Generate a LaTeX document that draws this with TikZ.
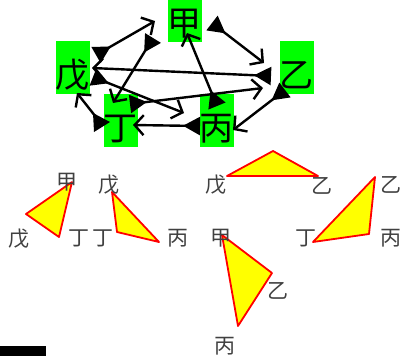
\documentclass[tikz,border=0pt]{standalone}
\usepackage{fontspec}
\usetikzlibrary{arrows.meta,calc}
\newfontfamily\cjk{Noto Sans CJK SC}
\definecolor{boxgreen}{RGB}{0,255,0}
\definecolor{triyellow}{RGB}{255,255,0}
\definecolor{trired}{RGB}{255,0,0}
\begin{document}
\begin{tikzpicture}[x=1pt,y=-1pt,
  vertex/.style={fill=boxgreen,inner sep=0pt,minimum width=33pt,
    text height=46.5pt,text depth=6.5pt,font=\cjk\fontsize{34}{34}\selectfont},
  openhead/.style={line width=2.4pt,-{Straight Barb[length=9pt,width=20pt,line width=2.4pt]}},
  edge/.style={openhead,{Triangle[reversed,length=17pt,width=18pt]}-{Straight Barb[length=9pt,width=20pt,line width=2.4pt]}},
  lbl/.style={anchor=base,inner sep=0pt,text=black!75,font=\cjk\fontsize{21}{21}\selectfont},
  tri/.style={draw=trired,fill=triyellow,line width=1.8pt,line join=round}]
\useasboundingbox (0,0) rectangle (401,356);

% the five vertices
\node[vertex] (jia)  at (184.5,15.5)  {甲};
\node[vertex] (yi)   at (296.5,67.5)  {乙};
\node[vertex] (bing) at (216.5,120.5) {丙};
\node[vertex] (ding) at (120.5,120.5) {丁};
\node[vertex] (wu)   at (72.5,67.5)   {戊};

% edges of the complete graph
\draw[edge] ($(wu)+(23.5,-12.5)$)   -- ($(jia)+(-29.5,5.5)$);
\draw[edge] ($(jia)+(-31.5,22.5)$)  -- ($(ding)+(-7.5,-17.5)$);
\draw[edge] ($(jia)+(27.5,7.5)$)    -- ($(yi)+(-32.5,-4.5)$);
\draw[edge] ($(bing)+(0.5,-14.5)$)  -- ($(jia)+(2.5,17.5)$);
\draw[edge] ($(yi)+(-25.5,8.5)$)    -- ($(wu)+(19.5,0.5)$);
\draw[edge] ($(wu)+(20.5,9.5)$)     -- ($(bing)+(-32.5,-7.5)$);
\draw[edge] ($(ding)+(9.5,-16.5)$)  -- ($(yi)+(-33.5,20.5)$);
\draw[edge] ($(bing)+(-16.5,5.5)$)  -- ($(ding)+(12.5,4.5)$);
\draw[edge] ($(yi)+(-11.5,22.5)$)   -- ($(bing)+(16.5,9.5)$);
\draw[openhead] ($(ding)+(-23,-1.5)$) -- ($(wu)+(4.5,25.5)$);
\fill ($(ding)+(-27.5,-7.5)$) -- ($(ding)+(-10.5,1.5)$) -- ($(ding)+(-26.5,11.5)$) -- cycle;

% triangles of vertex triples
\draw[tri] (72,182) -- (26,214) -- (59,237) -- cycle;
\node[lbl] (t1a) at (67,189) {甲};
\node[lbl] (t1b) at (19,246) {戊};
\node[lbl] (t1c) at (79,245) {丁};

\draw[tri] (112,192) -- (117,232) -- (159,242) -- cycle;
\node[lbl] (t2a) at (109,192) {戊};
\node[lbl] (t2b) at (103,245) {丁};
\node[lbl] (t2c) at (178,245) {丙};

\draw[tri] (227,176) -- (273,151) -- (318,176) -- cycle;
\node[lbl] (t3a) at (216,192) {戊};
\node[lbl] (t3b) at (322,193) {乙};

\draw[tri] (375,177) -- (369,234) -- (313,242) -- cycle;
\node[lbl] (t4a) at (391,192) {乙};
\node[lbl] (t4b) at (306,245) {丁};
\node[lbl] (t4c) at (391,245) {丙};

\draw[tri] (222,235) -- (272,273) -- (238,326) -- cycle;
\node[lbl] (t5a) at (221,245) {甲};
\node[lbl] (t5b) at (278,298) {乙};
\node[lbl] (t5c) at (225,353) {丙};

% black bar in the lower left corner
\fill[black] (0,346) rectangle (46,356);
\end{tikzpicture}
\end{document}
